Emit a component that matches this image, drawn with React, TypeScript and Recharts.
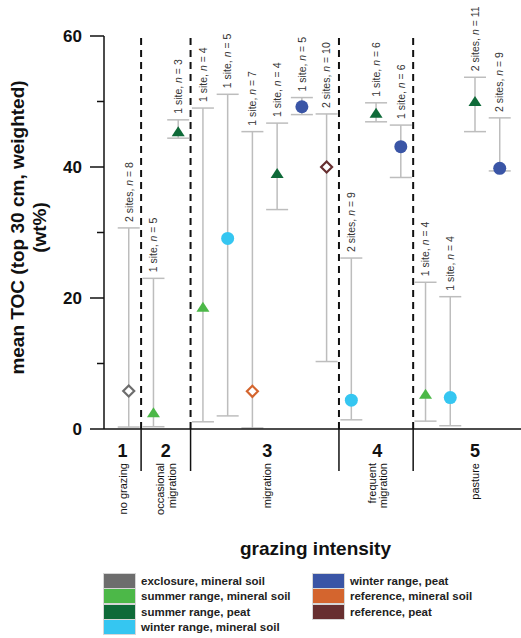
import React from 'react'
import {
  ComposedChart,
  Scatter,
  ErrorBar,
  XAxis,
  YAxis,
  ReferenceLine,
  Legend
} from 'recharts'

// series (site type / soil)
const categoryNames = [
  'exclosure, mineral soil',
  'summer range, mineral soil',
  'summer range, peat',
  'winter range, mineral soil',
  'winter range, peat',
  'reference, mineral soil',
  'reference, peat'
]
const categoryColors = ['#6d6d6d', '#4cb848', '#0e6a38', '#35c6f1', '#3a55a6', '#d4652e', '#672f30']
const categoryMarkers = ['diamond', 'triangle', 'triangle', 'circle', 'circle', 'diamond', 'diamond']

// one entry per plotted point, left to right
const pointSlot = [1, 2, 3, 4, 5, 6, 7, 8, 9, 10, 11, 12, 13, 14, 15, 16]
const pointCategory = [0, 1, 2, 1, 3, 5, 2, 4, 6, 3, 2, 4, 1, 3, 2, 4]
const pointMean = [5.8, 2.5, 45.4, 18.6, 29.1, 5.75, 39.0, 49.2, 40.0, 4.4, 48.2, 43.1, 5.3, 4.8, 50.0, 39.8]
const pointLow = [0.3, 0.35, 44.4, 1.1, 2.0, 0.15, 33.5, 48.0, 10.3, 1.4, 46.9, 38.4, 1.2, 0.5, 45.4, 39.4]
const pointHigh = [30.7, 23.0, 47.2, 49.0, 51.1, 45.4, 46.7, 50.6, 48.1, 26.1, 49.8, 46.4, 22.4, 20.2, 53.7, 47.5]
const pointSites = [2, 1, 1, 1, 1, 1, 1, 1, 2, 2, 1, 1, 1, 1, 2, 2]
const pointN = [8, 5, 3, 4, 5, 7, 4, 5, 10, 9, 6, 6, 4, 4, 11, 9]

// grazing intensity groups
const groupNumbers = ['1', '2', '3', '4', '5']
const groupNames = [['no grazing'], ['occasional', 'migration'], ['migration'], ['frequent', 'migration'], ['pasture']]
const groupCenters = [0.75, 2.5, 6.6, 11.05, 15]
const groupBreaks = [1.5, 3.5, 9.5, 12.5]

const yTicks = [0, 10, 20, 30, 40, 50, 60]
const yMajor = [0, 20, 40, 60]

const FONT = '"Liberation Sans", Arial, Helvetica, sans-serif'

const seriesData = categoryNames.map((_, c) =>
  pointSlot
    .map((x, i) => ({
      x,
      y: pointMean[i],
      err: [pointMean[i] - pointLow[i], pointHigh[i] - pointMean[i]],
      cat: pointCategory[i]
    }))
    .filter((d) => d.cat === c)
)

const labelData = pointSlot.map((x, i) => ({
  x,
  y: pointHigh[i],
  sites: pointSites[i],
  n: pointN[i]
}))

const Marker = ({ cx, cy, kind, color }: any) => {
  if (cx == null || cy == null) return null
  if (kind === 'circle') return <circle cx={cx} cy={cy} r={6.5} fill={color} />
  if (kind === 'triangle')
    return (
      <polygon
        points={`${cx},${cy - 5.5} ${cx + 6.5},${cy + 4.5} ${cx - 6.5},${cy + 4.5}`}
        fill={color}
      />
    )
  return (
    <polygon
      points={`${cx},${cy - 5.5} ${cx + 5.5},${cy} ${cx},${cy + 5.5} ${cx - 5.5},${cy}`}
      fill="#fff"
      stroke={color}
      strokeWidth={2.2}
    />
  )
}

const SiteLabel = ({ cx, cy, payload }: any) => {
  if (cx == null || cy == null) return null
  const y0 = cy - 6
  return (
    <text
      x={cx}
      y={y0}
      dy="0.36em"
      transform={`rotate(-90 ${cx} ${y0})`}
      fontSize={10.5}
      fill="#333"
      fontFamily={FONT}
    >
      {`${payload.sites} ${payload.sites === 1 ? 'site' : 'sites'}, `}
      <tspan fontStyle="italic">n</tspan>
      {` = ${payload.n}`}
    </text>
  )
}

const YTick = ({ x, y, payload }: any) => {
  const major = yMajor.includes(payload.value)
  return (
    <g>
      <line x1={x - (major ? 14 : 7)} x2={x} y1={y} y2={y} stroke="#111" strokeWidth={1.5} />
      {major && (
        <text x={x - 22} y={y} dy="0.36em" textAnchor="end" fontSize={17} fontWeight="bold" fill="#111" fontFamily={FONT}>
          {payload.value}
        </text>
      )}
    </g>
  )
}

const XTick = ({ x, y, payload }: any) => {
  if (groupBreaks.includes(payload.value)) {
    return <line x1={x} x2={x} y1={y} y2={y + 42} stroke="#111" strokeWidth={1.5} />
  }
  const g = groupCenters.indexOf(payload.value)
  if (g < 0) return null
  const lines = groupNames[g]
  return (
    <g fontFamily={FONT} fill="#111">
      <text x={x} y={y + 27.5} textAnchor="middle" fontSize={18} fontWeight="bold">
        {groupNumbers[g]}
      </text>
      {lines.map((t, k) => {
        const lx = x + (k - (lines.length - 1) / 2) * 11.5
        const ly = y + 34
        return (
          <text
            key={k}
            x={lx}
            y={ly}
            dy="0.36em"
            textAnchor="end"
            transform={`rotate(-90 ${lx} ${ly})`}
            fontSize={11}
          >
            {t}
          </text>
        )
      })}
    </g>
  )
}

const YLabel = ({ viewBox }: any) => {
  const cy = viewBox.y + viewBox.height / 2 - 5
  return (
    <g fontFamily={FONT} fontWeight="bold" fontSize={19} fill="#111">
      <text x={17} y={cy} dy="0.36em" textAnchor="middle" transform={`rotate(-90 17 ${cy})`}>
        mean TOC (top 30 cm, weighted)
      </text>
      <text x={39.5} y={cy} dy="0.36em" textAnchor="middle" transform={`rotate(-90 39.5 ${cy})`}>
        (wt%)
      </text>
    </g>
  )
}

const XLabel = ({ viewBox }: any) => (
  <text
    x={viewBox.x + viewBox.width / 2 + 3}
    y={555}
    textAnchor="middle"
    fontFamily={FONT}
    fontWeight="bold"
    fontSize={19}
    fill="#111"
  >
    grazing intensity
  </text>
)

const LegendBox = () => {
  const cols = [
    [0, 1, 2, 3],
    [4, 5, 6]
  ]
  return (
    <div style={{ position: 'relative', height: 64, fontFamily: FONT }}>
      {cols.map((col, ci) =>
        col.map((c, ri) => (
          <div
            key={c}
            style={{
              position: 'absolute',
              left: ci * 209,
              top: ri * 15.5,
              display: 'flex',
              alignItems: 'center',
              height: 15
            }}
          >
            <div
              style={{
                width: 31,
                height: 14,
                background: categoryColors[c],
                border: '1px solid #d6d6d6',
                marginRight: 5
              }}
            />
            <span style={{ fontSize: 11.5, fontWeight: 'bold', color: '#222', whiteSpace: 'nowrap' }}>
              {categoryNames[c]}
            </span>
          </div>
        ))
      )}
    </div>
  )
}

export default function App() {
  return (
    <div style={{ position: 'absolute', left: 0, top: 0, width: 521, height: 638, background: '#fff' }}>
      <ComposedChart width={521} height={638} margin={{ top: 36, right: 0, bottom: 0, left: 0 }}>
        <XAxis
          type="number"
          dataKey="x"
          domain={[0, 16.86]}
          allowDataOverflow
          ticks={[...groupCenters, ...groupBreaks].sort((a, b) => a - b)}
          interval={0}
          tick={<XTick />}
          tickLine={false}
          tickSize={0}
          tickMargin={0}
          height={209}
          axisLine={{ stroke: '#111', strokeWidth: 1.5 }}
          label={<XLabel />}
        />
        <YAxis
          type="number"
          dataKey="y"
          domain={[0, 60]}
          ticks={yTicks}
          interval={0}
          tick={<YTick />}
          tickLine={false}
          tickSize={0}
          tickMargin={0}
          width={104}
          axisLine={{ stroke: '#111', strokeWidth: 1.5 }}
          label={<YLabel />}
        />
        {groupBreaks.map((b) => (
          <ReferenceLine key={b} x={b} stroke="#111" strokeWidth={2} strokeDasharray="7 5" />
        ))}
        <Legend
          layout="vertical"
          align="center"
          verticalAlign="middle"
          content={<LegendBox />}
          wrapperStyle={{ left: 103, top: 573, width: 420 }}
        />
        {categoryNames.map((name, c) => (
          <Scatter
            key={name}
            name={name}
            data={seriesData[c]}
            fill={categoryColors[c]}
            isAnimationActive={false}
            shape={(p: any) => <Marker {...p} kind={categoryMarkers[c]} color={categoryColors[c]} />}
          >
            <ErrorBar
              dataKey="err"
              direction="y"
              width={11}
              stroke="#bdbdbd"
              strokeWidth={1.5}
              isAnimationActive={false}
            />
          </Scatter>
        ))}
        <Scatter
          name="labels"
          data={labelData}
          legendType="none"
          isAnimationActive={false}
          shape={(p: any) => <SiteLabel {...p} />}
        />
      </ComposedChart>
    </div>
  )
}
